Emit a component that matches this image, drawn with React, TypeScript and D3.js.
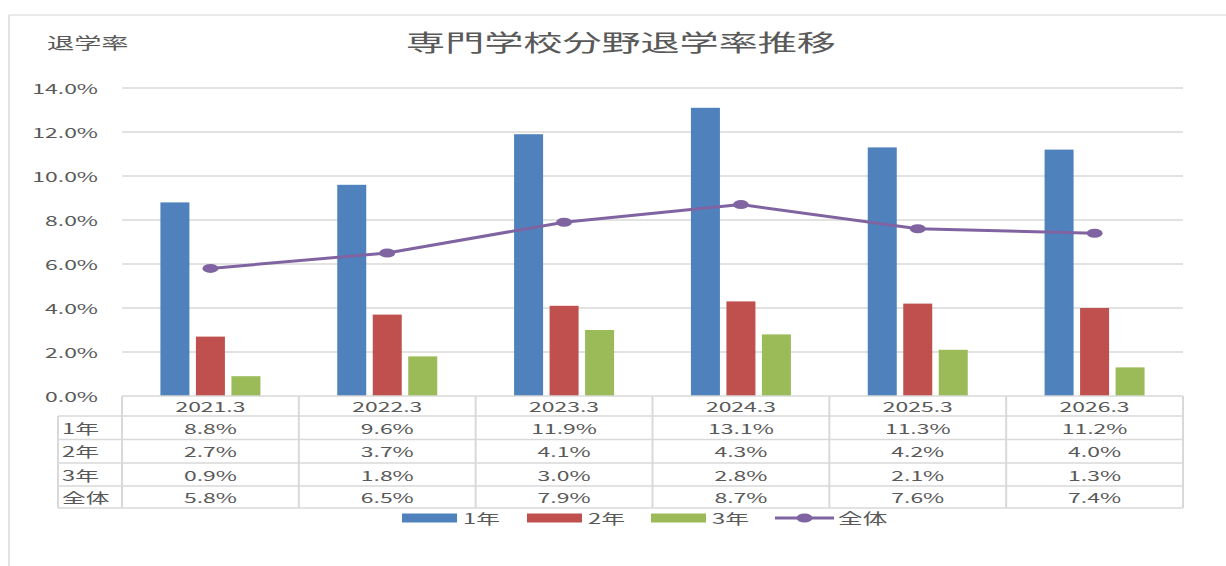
import React, { useEffect, useRef } from 'react';
import * as d3 from 'd3';

// chart data
const categories = ['2021.3', '2022.3', '2023.3', '2024.3', '2025.3', '2026.3'];
const year1 = [8.8, 9.6, 11.9, 13.1, 11.3, 11.2];
const year2 = [2.7, 3.7, 4.1, 4.3, 4.2, 4.0];
const year3 = [0.9, 1.8, 3.0, 2.8, 2.1, 1.3];
const total = [5.8, 6.5, 7.9, 8.7, 7.6, 7.4];
const barNames = ['1年', '2年', '3年'];
const lineName = '全体';
const yTicks = [0, 2, 4, 6, 8, 10, 12, 14];
const title = '専門学校分野退学率推移';
const yTitle = '退学率';

const App = () => {
  const svgRef = useRef<SVGSVGElement>(null);

  useEffect(() => {
    const W = 1226, H = 566;
    const SX = 1.7; // the source picture is stretched horizontally
    const font = "'Noto Sans CJK JP', 'Noto Sans', sans-serif";
    const textColor = '#595959';
    const gridColor = '#d9d9d9';
    const colors = ['#4F81BD', '#C0504D', '#9BBB59'];
    const lineColor = '#8064A2';
    const barSeries = [year1, year2, year3];

    const svg = d3.select(svgRef.current)
      .attr('width', W)
      .attr('height', H);
    svg.selectAll('*').remove();

    const label = (str: string, px: number, py: number, size: number, anchor = 'start') =>
      svg.append('text')
        .attr('transform', `translate(${px},${py}) scale(${SX},1)`)
        .attr('text-anchor', anchor)
        .attr('dominant-baseline', 'central')
        .style('font-family', font)
        .style('font-size', `${size}px`)
        .style('fill', textColor)
        .text(str);

    // outer frame (only top and left edges visible)
    svg.append('line').attr('x1', 9).attr('x2', W).attr('y1', 15).attr('y2', 15)
      .attr('stroke', '#e3e3e3').attr('stroke-width', 1.5);
    svg.append('line').attr('x1', 9).attr('x2', 9).attr('y1', 15).attr('y2', H)
      .attr('stroke', '#e3e3e3').attr('stroke-width', 2);

    // scales
    const x = d3.scaleBand().domain(categories).range([122, 1183]);
    const y = d3.scaleLinear().domain([0, 14]).range([396, 88]);
    const xs = d3.scaleBand().domain(barNames).range([0, 100]).paddingInner(0.183);
    const groupLeft = (c: string) => (x(c) as number) + x.bandwidth() / 2 - 50;
    const center = (c: string) => (x(c) as number) + x.bandwidth() / 2;

    // title
    label(title, 621, 41, 23, 'middle');
    label(yTitle, 47, 42, 16);

    // gridlines + y labels
    svg.append('g').selectAll('line')
      .data(yTicks.filter(t => t > 0))
      .join('line')
      .attr('x1', 122).attr('x2', 1183)
      .attr('y1', d => y(d)).attr('y2', d => y(d))
      .attr('stroke', gridColor).attr('stroke-width', 1.3);

    yTicks.forEach(t => label(`${t.toFixed(1)}%`, 98, y(t), 13.5, 'end'));

    // bars
    barSeries.forEach((vals, si) => {
      svg.append('g').selectAll('rect')
        .data(vals)
        .join('rect')
        .attr('x', (d, i) => groupLeft(categories[i]) + (xs(barNames[si]) as number))
        .attr('width', xs.bandwidth())
        .attr('y', d => y(d))
        .attr('height', d => y(0) - y(d))
        .attr('fill', colors[si]);
    });

    // total line
    const line = d3.line<number>()
      .x((d, i) => center(categories[i]))
      .y(d => y(d));

    svg.append('path')
      .datum(total)
      .attr('fill', 'none')
      .attr('stroke', lineColor)
      .attr('stroke-width', 3)
      .attr('stroke-linejoin', 'round')
      .attr('d', line);

    svg.append('g').selectAll('ellipse')
      .data(total)
      .join('ellipse')
      .attr('cx', (d, i) => center(categories[i]))
      .attr('cy', d => y(d))
      .attr('rx', 8)
      .attr('ry', 4.5)
      .attr('fill', lineColor);

    // data table
    const rowTops = [396, 416, 439.5, 463, 486, 508];
    const rowHeaderLeft = 58;
    const tableRows = [year1, year2, year3, total];
    const rowNames = [...barNames, lineName];

    const tg = svg.append('g').attr('stroke', gridColor);
    tg.append('line').attr('x1', 122).attr('x2', 1183).attr('y1', rowTops[0]).attr('y2', rowTops[0])
      .attr('stroke-width', 1.5);
    rowTops.slice(1).forEach(ty => {
      tg.append('line').attr('x1', rowHeaderLeft).attr('x2', 1183).attr('y1', ty).attr('y2', ty)
        .attr('stroke-width', 1.5);
    });
    tg.append('line').attr('x1', rowHeaderLeft).attr('x2', rowHeaderLeft)
      .attr('y1', rowTops[1]).attr('y2', rowTops[5]).attr('stroke-width', 2);
    [...categories.map(c => x(c) as number), 1183].forEach(vx => {
      tg.append('line').attr('x1', vx).attr('x2', vx)
        .attr('y1', rowTops[0]).attr('y2', rowTops[5]).attr('stroke-width', 2);
    });

    categories.forEach(c => label(c, center(c), (rowTops[0] + rowTops[1]) / 2, 13.5, 'middle'));
    tableRows.forEach((vals, ri) => {
      const cy = (rowTops[ri + 1] + rowTops[ri + 2]) / 2;
      label(rowNames[ri], 62, cy, 14);
      vals.forEach((v, i) => label(`${v.toFixed(1)}%`, center(categories[i]), cy, 13.5, 'middle'));
    });

    // legend
    const legendY = 518;
    const swatchX = [402, 527, 651];
    barNames.forEach((n, i) => {
      svg.append('rect')
        .attr('x', swatchX[i]).attr('y', legendY - 4.5)
        .attr('width', 55).attr('height', 9)
        .attr('fill', colors[i]);
      label(n, swatchX[i] + 61, legendY, 14);
    });
    svg.append('line').attr('x1', 775).attr('x2', 834).attr('y1', legendY).attr('y2', legendY)
      .attr('stroke', lineColor).attr('stroke-width', 3);
    svg.append('ellipse').attr('cx', 804.5).attr('cy', legendY).attr('rx', 8).attr('ry', 4.5)
      .attr('fill', lineColor);
    label(lineName, 838, legendY, 14.5);
  }, []);

  return (
    <svg ref={svgRef} style={{ position: 'absolute', left: 0, top: 0, background: '#fff' }}></svg>
  );
};

export default App;
